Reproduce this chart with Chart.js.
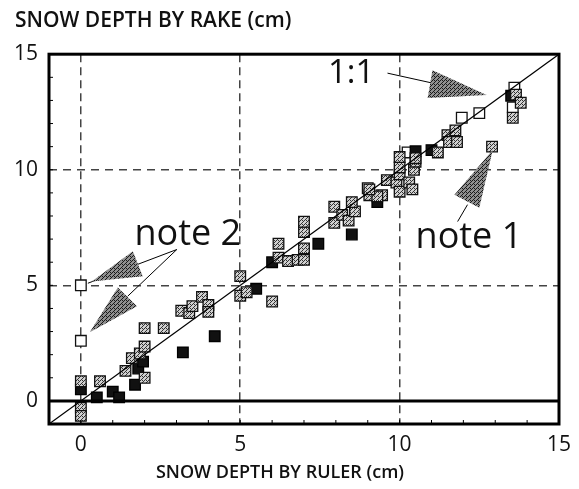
<!DOCTYPE html>
<html>
<head>
<meta charset="utf-8">
<script src="https://cdn.jsdelivr.net/npm/chart.js@4.4.0/dist/chart.umd.min.js"></script>
<style>
  html, body { margin: 0; padding: 0; background: #fff; }
  #wrap { width: 579px; height: 489px; }
</style>
</head>
<body>
<div id="wrap"><canvas id="snowChart" width="579" height="489"></canvas></div>
<script>
// snow depth, ruler (x) vs rake (y), in cm
const openRuler = [0, 0, 9.0, 10.25, 11.95, 12.5, 13.55, 13.6];
const openRake  = [5.0, 2.6, 9.2, 10.75, 12.25, 12.45, 12.7, 13.55];

const darkRuler = [0, 0.5, 1.0, 1.2, 1.7, 1.8, 1.95, 3.2, 4.2, 5.5, 6.0, 7.45, 8.5, 9.3, 10.5, 11.0, 13.5];
const darkRake  = [0.5, 0.15, 0.4, 0.15, 0.7, 1.4, 1.7, 2.1, 2.8, 4.85, 6.0, 6.8, 7.2, 8.6, 10.8, 10.85, 13.2];

const grayRuler = [0, 0, 0, 0.6, 1.4, 1.6, 1.85, 2.0, 2.0, 2.0, 2.6, 3.15, 3.4, 3.5, 3.8, 4.0, 4.0,
                   5.0, 5.0, 5.2, 6.0, 6.2, 6.2, 6.5, 6.8, 7.0, 7.0, 7.0, 7.0, 7.95, 7.95, 8.2, 8.4,
                   8.6, 8.5, 9.05, 9.45, 9.3, 9.05, 9.6, 9.9, 10.0, 10.0, 10.0, 10.0, 10.3, 10.4,
                   10.45, 10.5, 10.5, 11.2, 11.5, 11.55, 11.75, 11.8, 12.9, 13.65, 13.8, 13.55];
const grayRake  = [0.85, -0.3, -0.65, 0.85, 1.3, 1.85, 2.05, 1.0, 2.35, 3.15, 3.15, 3.9, 3.8, 4.1, 4.5, 4.15, 3.85,
                   5.4, 4.55, 4.7, 4.3, 6.2, 6.8, 6.05, 6.1, 6.1, 6.6, 7.3, 7.75, 8.4, 7.7, 8.05, 7.8,
                   8.2, 8.6, 8.9, 8.9, 8.85, 9.15, 9.55, 9.45, 9.05, 9.8, 10.1, 10.55, 9.45, 9.15,
                   10.0, 10.35, 10.5, 10.75, 11.5, 11.2, 11.7, 11.2, 11.0, 13.25, 12.9, 12.25];

const xTicks = [0, 5, 10, 15];
const yTicks = [0, 5, 10, 15];
const xGridAt = [0, 5, 10];
const yGridAt = [5, 10];

const xTitle = 'SNOW DEPTH BY RULER (cm)';

// annotation text and shapes, in data units
const notes = [
    { text: '1:1', x: 7.75, y: 14.15, size: 33 },
    { text: 'note 1', x: 10.5, y: 7.05, size: 36 },
    { text: 'note 2', x: 1.68, y: 7.2, size: 36 }
];
const triangles = [
    [[11.03, 14.31], [10.88, 13.1], [12.73, 13.23]],
    [[12.92, 10.86], [11.72, 8.92], [12.5, 8.36]],
    [[1.63, 6.47], [0.34, 5.17], [1.94, 5.39]],
    [[1.16, 4.91], [1.76, 4.09], [0.28, 2.97]]
];
const leaders = [
    [[9.62, 14.18], [11.03, 13.75]],
    [[12.13, 8.49], [11.82, 7.76]],
    [[0.22, 5.09], [3.01, 6.55]],
    [[3.01, 6.55], [1.47, 4.53]]
];

function pairs(xs, ys) {
    return xs.map((x, i) => ({ x: x, y: ys[i] }));
}

function makePattern(bg, fg) {
    const c = document.createElement('canvas');
    c.width = 4; c.height = 4;
    const g = c.getContext('2d');
    g.fillStyle = bg;
    g.fillRect(0, 0, 4, 4);
    g.fillStyle = fg;
    g.fillRect(0, 0, 1, 1); g.fillRect(2, 2, 1, 1);
    g.fillRect(1, 3, 1, 1); g.fillRect(3, 1, 1, 1);
    g.fillRect(2, 0, 1, 1);
    return g.createPattern(c, 'repeat');
}

const grayFill = makePattern('#d0d0d0', '#333');
const arrowFill = makePattern('#8f8f8f', '#1a1a1a');

// frame, minor ticks, x title and the notes
const decorPlugin = {
    id: 'decor',
    afterDatasetsDraw(chart) {
        const { ctx, chartArea: a, scales: { x, y } } = chart;
        ctx.save();
        ctx.strokeStyle = '#000';
        ctx.lineWidth = 1;
        for (let v = -1; v <= 15; v++) {
            const px = x.getPixelForValue(v);
            ctx.beginPath(); ctx.moveTo(px, a.bottom); ctx.lineTo(px, a.bottom - 4); ctx.stroke();
            const py = y.getPixelForValue(v);
            ctx.beginPath(); ctx.moveTo(a.left, py); ctx.lineTo(a.left + 4, py); ctx.stroke();
        }
        ctx.lineWidth = 3;
        ctx.strokeRect(a.left, a.top, a.right - a.left, a.bottom - a.top);

        ctx.lineWidth = 1;
        leaders.forEach(l => {
            ctx.beginPath();
            ctx.moveTo(x.getPixelForValue(l[0][0]), y.getPixelForValue(l[0][1]));
            ctx.lineTo(x.getPixelForValue(l[1][0]), y.getPixelForValue(l[1][1]));
            ctx.stroke();
        });
        triangles.forEach(t => {
            ctx.beginPath();
            t.forEach((p, i) => {
                const px = x.getPixelForValue(p[0]), py = y.getPixelForValue(p[1]);
                if (i === 0) ctx.moveTo(px, py); else ctx.lineTo(px, py);
            });
            ctx.closePath();
            ctx.fillStyle = arrowFill;
            ctx.fill();
        });
        ctx.fillStyle = '#111';
        ctx.textAlign = 'left';
        ctx.textBaseline = 'middle';
        notes.forEach(n => {
            ctx.font = n.size + 'px "Open Sans", sans-serif';
            ctx.fillText(n.text, x.getPixelForValue(n.x), y.getPixelForValue(n.y));
        });

        // axis title sits a little left of centre in the original
        ctx.font = '600 18px "Open Sans", sans-serif';
        ctx.textAlign = 'center';
        ctx.fillText(xTitle, (a.left + a.right) / 2 - 24, 473);
        ctx.restore();
    }
};

const ctx = document.getElementById('snowChart').getContext('2d');
new Chart(ctx, {
    type: 'scatter',
    data: {
        datasets: [
            {
                label: 'zero',
                data: [{ x: -1, y: 0 }, { x: 15, y: 0 }],
                showLine: true,
                borderColor: '#000',
                borderWidth: 3,
                pointRadius: 0
            },
            {
                label: '1:1',
                data: [{ x: -1, y: -1 }, { x: 15, y: 15 }],
                showLine: true,
                borderColor: '#000',
                borderWidth: 1.2,
                pointRadius: 0
            },
            {
                label: 'gray',
                data: pairs(grayRuler, grayRake),
                pointStyle: 'rect',
                pointRadius: 7.5,
                backgroundColor: grayFill,
                borderColor: '#111',
                borderWidth: 1.3
            },
            {
                label: 'dark',
                data: pairs(darkRuler, darkRake),
                pointStyle: 'rect',
                pointRadius: 7.5,
                backgroundColor: '#111',
                borderColor: '#000',
                borderWidth: 1.3
            },
            {
                label: 'open',
                data: pairs(openRuler, openRake),
                pointStyle: 'rect',
                pointRadius: 7.5,
                backgroundColor: '#fff',
                borderColor: '#111',
                borderWidth: 1.3
            }
        ]
    },
    options: {
        responsive: false,
        animation: false,
        layout: { padding: { left: 15, right: 18, top: 0, bottom: 0 } },
        plugins: {
            legend: { display: false },
            tooltip: { enabled: false },
            title: {
                display: true,
                text: 'SNOW DEPTH BY RAKE (cm)',
                align: 'start',
                color: '#111',
                font: { family: 'Open Sans', size: 21, weight: '600' },
                padding: { top: 8, bottom: 21 }
            }
        },
        scales: {
            x: {
                type: 'linear',
                min: -1,
                max: 15,
                afterBuildTicks: s => { s.ticks = xTicks.map(v => ({ value: v })); },
                afterFit: s => { s.height = 65; },
                grid: {
                    drawTicks: false,
                    lineWidth: 1.5,
                    color: c => (c.tick && xGridAt.includes(c.tick.value)) ? '#444' : 'rgba(0,0,0,0)'
                },
                border: { display: false, dash: [8, 5] },
                ticks: {
                    color: '#111',
                    padding: 8,
                    font: { family: 'Open Sans', size: 21 },
                    callback: v => String(v)
                }
            },
            y: {
                type: 'linear',
                min: -1,
                max: 15,
                afterBuildTicks: s => { s.ticks = yTicks.map(v => ({ value: v })); },
                afterFit: s => { s.width = 34; },
                grid: {
                    drawTicks: false,
                    lineWidth: 1.5,
                    color: c => (c.tick && yGridAt.includes(c.tick.value)) ? '#444' : 'rgba(0,0,0,0)'
                },
                border: { display: false, dash: [8, 6] },
                ticks: {
                    color: '#111',
                    padding: 11,
                    font: { family: 'Open Sans', size: 21 },
                    callback: v => String(v)
                }
            }
        }
    },
    plugins: [decorPlugin]
});
</script>
</body>
</html>
